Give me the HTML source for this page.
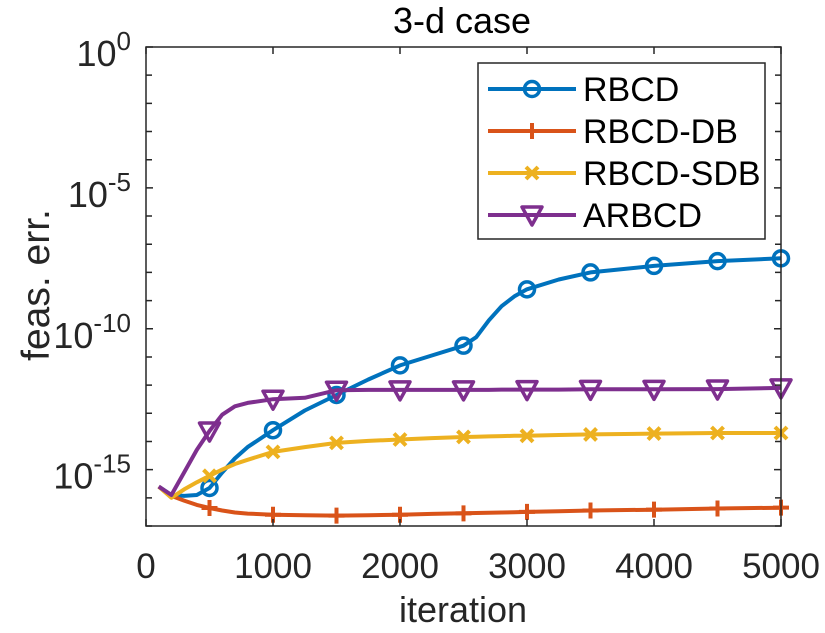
<!DOCTYPE html>
<html><head><meta charset="utf-8"><style>
body{margin:0;background:#fff}
svg{display:block;font-family:"Liberation Sans",sans-serif}
</style></head><body>
<svg id="chart" width="825" height="633" viewBox="0 0 825 633" xmlns="http://www.w3.org/2000/svg">
<g id="grid"></g>
<g id="series"></g>
<g id="axes"></g>
</svg>
<script>
const xs=[100,200,300,400,500,600,700,800,1000,1250,1500,1750,2000,2250,2500,2600,2700,2800,2900,3000,3250,3500,4000,4500,5000];
const rbcd=[-15.6,-15.9,-15.93,-15.9,-15.65,-15.1,-14.6,-14.2,-13.6,-12.9,-12.35,-11.8,-11.3,-10.95,-10.6,-10.3,-9.7,-9.2,-8.85,-8.6,-8.25,-8.0,-7.77,-7.6,-7.5];
const rbcdDb=[-15.6,-15.93,-16.1,-16.25,-16.36,-16.45,-16.52,-16.56,-16.6,-16.62,-16.63,-16.62,-16.6,-16.57,-16.55,-16.54,-16.53,-16.52,-16.51,-16.5,-16.48,-16.45,-16.42,-16.38,-16.35];
const rbcdSdb=[-15.6,-16.0,-15.7,-15.45,-15.22,-15.0,-14.8,-14.65,-14.37,-14.2,-14.05,-13.98,-13.93,-13.88,-13.84,-13.83,-13.82,-13.81,-13.8,-13.8,-13.77,-13.75,-13.72,-13.7,-13.7];
const arbcd=[-15.6,-15.9,-15.1,-14.3,-13.63,-13.05,-12.75,-12.63,-12.5,-12.45,-12.18,-12.17,-12.17,-12.17,-12.17,-12.17,-12.17,-12.16,-12.16,-12.16,-12.16,-12.15,-12.15,-12.14,-12.1];
const xTicks=[0,1000,2000,3000,4000,5000];
const yTickLabels=[0,-5,-10,-15];
const seriesNames=["RBCD","RBCD-DB","RBCD-SDB","ARBCD"];

const L=146,R=781,T=47,B=526,YMIN=-17,YMAX=0,XMIN=0,XMAX=5000;
const sx=v=>L+(v-XMIN)/(XMAX-XMIN)*(R-L);
const sy=v=>T+(YMAX-v)/(YMAX-YMIN)*(B-T);
const NS="http://www.w3.org/2000/svg";
function mk(tag,attrs,parent){const e=document.createElementNS(NS,tag);for(const k in attrs)e.setAttribute(k,attrs[k]);parent.appendChild(e);return e;}
const axes=document.getElementById('axes'),ser=document.getElementById('series');

const colors=["#0072BD","#D95319","#EDB120","#7E2F8E"];
const data=[rbcd,rbcdDb,rbcdSdb,arbcd];
function marker(i,x,y,g){
  let m;
  if(i===0){m=mk('circle',{cx:x,cy:y,r:7.5,fill:'none',stroke:colors[0],'stroke-width':3.5},g);}
  else if(i===1){m=mk('path',{d:`M${x-8},${y}H${x+8}M${x},${y-8}V${y+8}`,stroke:colors[1],'stroke-width':4,fill:'none'},g);}
  else if(i===2){m=mk('path',{d:`M${x-6},${y-6}L${x+6},${y+6}M${x-6},${y+6}L${x+6},${y-6}`,stroke:colors[2],'stroke-width':4,fill:'none'},g);}
  else {m=mk('path',{d:`M${x-10},${y-8}H${x+10}L${x},${y+10}Z`,stroke:colors[3],'stroke-width':3.5,fill:'none','stroke-linejoin':'round'},g);}
  return m;
}
data.forEach((arr,i)=>{
  const g=mk('g',{},ser);
  
  
  const d=arr.map((v,j)=>(j?'L':'M')+sx(xs[j]).toFixed(1)+','+sy(v).toFixed(1)).join('');
  const p=mk('path',{d:d,fill:'none',stroke:colors[i],'stroke-width':4,'stroke-linejoin':'round'},g);
  
  
  arr.forEach((v,j)=>{if(xs[j]%500===0){const m=marker(i,sx(xs[j]),sy(v),g);
    
    }});
});

const box=mk('rect',{x:L,y:T,width:R-L,height:B-T,fill:'none',stroke:'#262626','stroke-width':1.5},axes);


xTicks.forEach(t=>{
  const x=sx(t);
  mk('path',{d:`M${x},${B}V${B-7}M${x},${T}V${T+7}`,stroke:'#262626','stroke-width':1.5},axes);
  const tx=mk('text',{x:x,y:578,'font-size':35,'text-anchor':'middle',fill:'#262626'},axes);
  tx.textContent=t;
  
  
});
for(let d=YMIN;d<=YMAX;d++){
  const y=sy(d),len=(d%5===0)?7:6;
  mk('path',{d:`M${L},${y}H${L+len}M${R},${y}H${R-len}`,stroke:'#262626','stroke-width':1.5},axes);
}
yTickLabels.forEach(v=>{
  const y=sy(v);
  const t=mk('text',{x:131,y:y+19,'font-size':36,'text-anchor':'end',fill:'#262626'},axes);
  t.innerHTML='10<tspan dy="-16" font-size="26">'+v+'</tspan>';
  
  
});
const title=mk('text',{x:462,y:33,'font-size':36,'text-anchor':'middle',fill:'#000'},axes);
title.textContent='3-d case';


const xl=mk('text',{x:463,y:622,'font-size':36,'text-anchor':'middle',fill:'#262626'},axes);
xl.textContent='iteration';


const yl=mk('text',{x:0,y:0,'font-size':39,'text-anchor':'middle',fill:'#262626',transform:'translate(49,285) rotate(-90)'},axes);
yl.textContent='feas. err.';



const lg=mk('g',{},axes);


mk('rect',{x:478,y:63,width:287,height:176,fill:'#fff',stroke:'#262626','stroke-width':1.5},lg);
seriesNames.forEach((n,i)=>{
  const y=89+i*42;
  const e=mk('g',{},lg);
  
  
  mk('path',{d:`M488,${y}H576`,stroke:colors[i],'stroke-width':4},e);
  marker(i,532,y,e);
  const t=mk('text',{x:583,y:y+12,'font-size':34,fill:'#000'},e);
  t.textContent=n;
});
</script>
</body></html>
